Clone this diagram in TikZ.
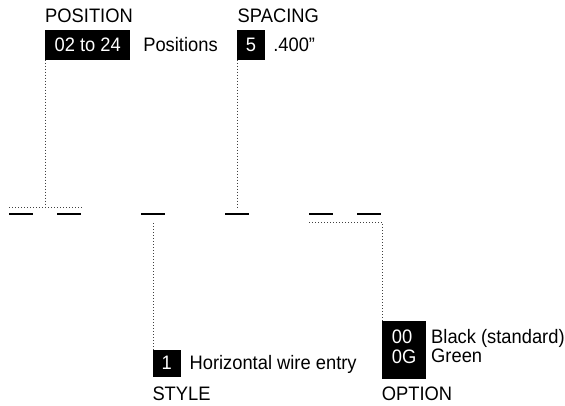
\documentclass[tikz,border=0pt]{standalone}
\usepackage{fontspec}
\setmainfont{Liberation Sans}[FakeStretch=0.94]
\usepackage{tikz}
\usetikzlibrary{positioning}
\definecolor{dotgray}{gray}{0.25}

\begin{document}
\begin{tikzpicture}[x=1pt, y=-1pt,
    lab/.style={anchor=base west, inner sep=0pt, font=\fontsize{19.5}{19.7}\selectfont},
    tag/.style={fill=black, text=white, anchor=north west, inner xsep=9pt, inner ysep=0pt,
                align=left, font=\fontsize{19.5}{19.7}\selectfont},
    bar/.style={fill=black, inner sep=0pt, minimum width=24pt, minimum height=2.6pt},
    dots/.style={draw=dotgray, line width=0.9pt, dash pattern=on 0.9pt off 2.1pt}]
  \useasboundingbox (0,0) rectangle (565,405);

  % top fields
  \node[lab] (pos) at (45,22.7) {POSITION};
  \node[tag, minimum width=85pt, minimum height=30pt] (posbox) at (45,29.3) {02 to 24};
  \node[lab, right=12.7pt of posbox.base east, anchor=base west] (postxt) {Positions};

  \node[lab] (sp) at (237.5,22.7) {SPACING};
  \node[tag, minimum width=28.3pt, minimum height=30pt] (spbox) at (236.7,29.3) {5};
  \node[lab, right=7.7pt of spbox.base east, anchor=base west] (sptxt) {.400”};

  % part number blanks
  \foreach \n/\x in {1/21,2/69,3/153,4/237,5/321,6/369}
    \node[bar] (b\n) at (\x,214) {};

  % bottom fields
  \node[tag, minimum width=27.7pt, minimum height=27pt] (stbox) at (152.3,349.5) {1};
  \node[lab, right=8.5pt of stbox.base east, anchor=base west] (sttxt) {Horizontal wire entry};
  \node[lab] (st) at (152.3,400) {STYLE};

  \node[tag, minimum width=44.3pt, minimum height=58pt, text depth=7pt] (opbox) at (381.7,321) {00\\0G};
  \node[lab] (optxt) at (431,343) {Black (standard)};
  \node[lab] (optxt2) at (431,362.7) {Green};
  \node[lab] (op) at (381.7,400) {OPTION};

  % dotted leaders
  \coordinate (pl) at (9,207.7);
  \coordinate (pr) at (83,207.7);
  \coordinate (ol) at (309,222.7);
  \coordinate (orr) at (382.7,222.7);
  \draw[dots] (pl) -- (pr);
  \draw[dots] ([xshift=0.7pt]posbox.south west) -- ([xshift=0.7pt]posbox.south west |- pl);
  \draw[dots] ([xshift=1pt]spbox.south west) -- ([xshift=1pt]spbox.south west |- pl);
  \draw[dots] (ol) -- (orr) -- (orr |- opbox.north);
  \draw[dots] ([xshift=1.2pt]stbox.north west) -- ([xshift=1.2pt]stbox.north west |- ol);
\end{tikzpicture}
\end{document}
